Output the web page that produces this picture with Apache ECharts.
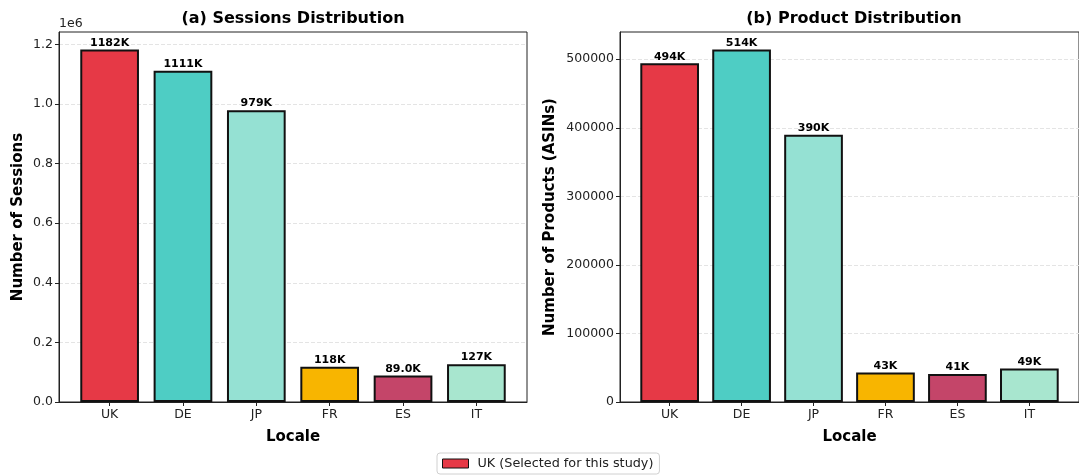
<!DOCTYPE html>
<html>
<head>
<meta charset="utf-8">
<script src="https://cdn.jsdelivr.net/npm/echarts@6/dist/echarts.min.js"></script>
<style>
  html, body { margin: 0; padding: 0; background: #fff; }
  #chart { width: 1079px; height: 476px; }
</style>
</head>
<body>
<div id="chart"></div>
<script>
// Locale breakdown of sessions and products
const locales = ['UK', 'DE', 'JP', 'FR', 'ES', 'IT'];
const barColors = ['#E63946', '#4ECDC4', '#95E1D3', '#F8B500', '#C44569', '#A8E6CF'];
const sessions = [1182000, 1111000, 979000, 118000, 89000, 127000];
const sessionLabels = ['1182K', '1111K', '979K', '118K', '89.0K', '127K'];
const products = [494000, 514000, 390000, 43000, 41000, 49000];
const productLabels = ['494K', '514K', '390K', '43K', '41K', '49K'];
const sessionTicks = [0, 200000, 400000, 600000, 800000, 1000000, 1200000];
const productTicks = [0, 100000, 200000, 300000, 400000, 500000];
const legendLabel = 'UK (Selected for this study)';

const FONT = 'DejaVu Sans';
const positions = locales.map((_, i) => i);

function barData(values) {
  return values.map((v, i) => ({
    value: [i, v],
    itemStyle: { color: barColors[i] }
  }));
}

function xAxisFor(gridIndex) {
  return {
    type: 'value',
    gridIndex,
    min: -0.69,
    max: 5.69,
    name: 'Locale',
    nameLocation: 'middle',
    nameGap: 28,
    nameTextStyle: { fontFamily: FONT, fontWeight: 'bold', fontSize: 15, color: '#000' },
    axisLine: { show: true, onZero: false, lineStyle: { color: '#222', width: 1 } },
    axisTick: { show: true, length: 4, customValues: positions, lineStyle: { color: '#222' } },
    axisLabel: {
      customValues: positions,
      formatter: v => locales[Math.round(v)],
      fontFamily: FONT, fontSize: 12.5, color: '#222', margin: 6
    },
    splitLine: { show: false }
  };
}

function yAxisFor(gridIndex, max, ticks, name, gap, fmt) {
  return {
    type: 'value',
    gridIndex,
    min: 0,
    max,
    interval: ticks[1] - ticks[0],
    name,
    nameLocation: 'middle',
    nameGap: gap,
    nameTextStyle: { fontFamily: FONT, fontWeight: 'bold', fontSize: 15, color: '#000' },
    axisLine: { show: true, onZero: false, lineStyle: { color: '#222', width: 1 } },
    axisTick: { show: true, length: 4, customValues: ticks, lineStyle: { color: '#222' } },
    axisLabel: {
      customValues: ticks,
      formatter: fmt,
      fontFamily: FONT, fontSize: 12.5, color: '#222', margin: 6
    },
    splitLine: { show: true, lineStyle: { color: '#e4e4e4', type: [4, 2], width: 1 } }
  };
}

function barSeries(name, axisIndex, values, labels) {
  return {
    name,
    type: 'bar',
    xAxisIndex: axisIndex,
    yAxisIndex: axisIndex,
    barWidth: 58.7,
    data: barData(values),
    itemStyle: { borderColor: '#111', borderWidth: 2 },
    label: {
      show: true,
      position: 'top',
      distance: 1,
      formatter: p => labels[p.dataIndex],
      fontFamily: FONT, fontWeight: 'bold', fontSize: 11, color: '#000'
    },
    emphasis: { disabled: true }
  };
}

const chart = echarts.init(document.getElementById('chart'), null, { renderer: 'canvas' });

chart.setOption({
  animation: false,
  backgroundColor: '#fff',
  grid: [
    { left: 59, top: 32, width: 468, height: 370, show: true, borderColor: '#222', borderWidth: 1, backgroundColor: 'transparent' },
    { left: 620, top: 32, width: 468, height: 370, show: true, borderColor: '#222', borderWidth: 1, backgroundColor: 'transparent' }
  ],
  xAxis: [xAxisFor(0), xAxisFor(1)],
  yAxis: [
    yAxisFor(0, 1241100, sessionTicks, 'Number of Sessions', 33, v => (v / 1e6).toFixed(1)),
    yAxisFor(1, 539700, productTicks, 'Number of Products (ASINs)', 62, v => String(v))
  ],
  legend: {
    data: [{ name: legendLabel, itemStyle: { color: '#E63946', borderColor: '#111', borderWidth: 1 } }],
    left: 437,
    top: 453,
    icon: 'rect',
    itemWidth: 26,
    itemHeight: 9,
    itemGap: 8,
    padding: [4, 6, 4, 5],
    borderColor: '#d0d0d0',
    borderWidth: 1,
    borderRadius: 3,
    textStyle: { fontFamily: FONT, fontSize: 12.8, color: '#222', padding: [0, 0, 0, 4] },
    selectedMode: false
  },
  graphic: [
    { type: 'text', x: 293, y: 19, style: { text: '(a) Sessions Distribution', font: 'bold 16px "DejaVu Sans"', align: 'center', verticalAlign: 'middle', fill: '#000' } },
    { type: 'text', x: 854, y: 19, style: { text: '(b) Product Distribution', font: 'bold 16px "DejaVu Sans"', align: 'center', verticalAlign: 'middle', fill: '#000' } },
    { type: 'text', x: 59, y: 24, style: { text: '1e6', font: '12.5px "DejaVu Sans"', align: 'left', verticalAlign: 'middle', fill: '#222' } }
  ],
  series: [
    barSeries(legendLabel, 0, sessions, sessionLabels),
    barSeries('Products', 1, products, productLabels)
  ]
});
</script>
</body>
</html>
